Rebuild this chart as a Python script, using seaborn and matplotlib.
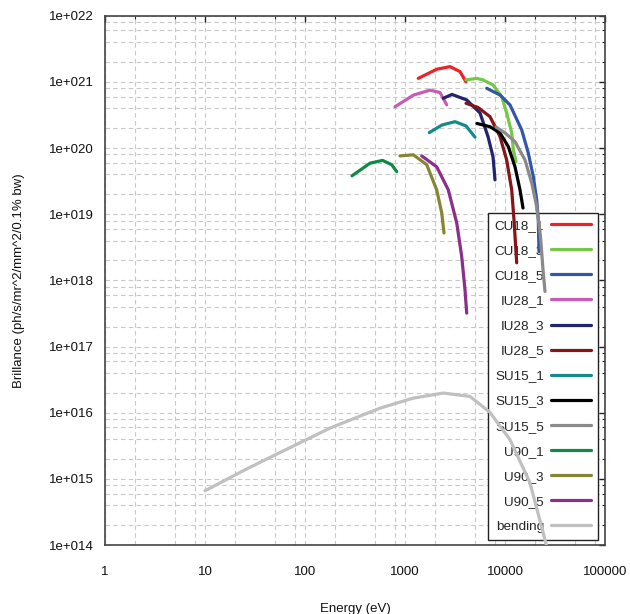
import numpy as np
import pandas as pd
import matplotlib
matplotlib.use("Agg")
import matplotlib.pyplot as plt
from matplotlib.lines import Line2D
from matplotlib.ticker import LogLocator, FuncFormatter, NullFormatter
import seaborn as sns

# ---------------- data ----------------
series_names = ["CU18_1", "CU18_3", "CU18_5", "IU28_1", "IU28_3", "IU28_5",
                "SU15_1", "SU15_3", "SU15_5", "U90_1", "U90_3", "U90_5", "bending"]
series_colors = ["#ee2226", "#74c846", "#3456a8", "#c95bb4", "#23236e", "#861518",
                 "#168a8a", "#000000", "#8a8a8a", "#0f8a45", "#858533", "#8a2f8c", "#c0c0c0"]

cu18_1_e = [1358, 2075, 2818, 3548, 4074]
cu18_1_b = [1.13e21, 1.55e21, 1.70e21, 1.43e21, 1.0e21]

cu18_3_e = [4074, 5212, 6026, 7586, 9268, 10390, 11670, 12110, 12880]
cu18_3_b = [1.07e21, 1.13e21, 1.07e21, 8.98e20, 5.97e20, 3.39e20, 1.69e20, 9.4e19, 6.2e19]

cu18_5_e = [6561, 8913, 11220, 14690, 17100, 19190, 20750, 21530, 21880]
cu18_5_b = [8.0e20, 6.34e20, 4.48e20, 1.88e20, 8.4e19, 3.7e19, 1.64e19, 8.2e18, 2.7e18]

iu28_1_e = [794, 1211, 1778, 2239, 2612]
iu28_1_b = [4.2e20, 6.3e20, 7.5e20, 6.9e20, 4.5e20]

iu28_3_e = [2415, 2951, 4140, 5623, 6761, 7586, 7943]
iu28_3_b = [5.65e20, 6.45e20, 5.33e20, 3.39e20, 1.49e20, 7.4e19, 3.3e19]

iu28_5_e = [4074, 5370, 7079, 8913, 10390, 11670, 12300, 13090]
iu28_5_b = [4.75e20, 4.1e20, 2.98e20, 1.49e20, 6.6e19, 2.33e19, 8.2e18, 1.84e18]

su15_1_e = [1750, 2344, 3162, 4074, 5012]
su15_1_b = [1.71e20, 2.23e20, 2.5e20, 2.16e20, 1.46e20]

su15_3_e = [5248, 7079, 8913, 10790, 12590, 14130, 15140]
su15_3_b = [2.35e20, 2.1e20, 1.69e20, 1.05e20, 5.2e19, 2.33e19, 1.24e19]

su15_5_e = [8128, 10000, 12590, 15850, 18490, 20750, 22650, 23990, 25120]
su15_5_b = [2.08e20, 1.69e20, 1.25e20, 6.6e19, 2.97e19, 1.30e19, 4.6e18, 1.44e18, 6.8e17]

u90_1_e = [295, 447, 596, 736, 826]
u90_1_b = [3.8e19, 5.9e19, 6.5e19, 5.6e19, 4.4e19]

u90_3_e = [891, 1211, 1648, 2075, 2328, 2455]
u90_3_b = [7.6e19, 7.9e19, 5.6e19, 2.33e19, 1.05e19, 5.2e18]

u90_5_e = [1469, 2075, 2710, 3289, 3690, 3981, 4140]
u90_5_b = [7.6e19, 5.2e19, 2.33e19, 7.4e18, 2.29e18, 7.2e17, 3.2e17]

bending_e = [10, 26.1, 56.2, 178, 562, 1211, 2415, 4467, 7079, 11220, 17780, 25120, 26300]
bending_b = [6.6e14, 1.41e15, 2.5e15, 5.85e15, 1.17e16, 1.66e16, 1.98e16, 1.76e16,
             1.01e16, 3.9e15, 8.7e14, 1.2e14, 9.0e13]

x_ticks = [1, 10, 100, 1000, 10000, 100000]
y_ticks = [1e14, 1e15, 1e16, 1e17, 1e18, 1e19, 1e20, 1e21, 1e22]

energies = [cu18_1_e, cu18_3_e, cu18_5_e, iu28_1_e, iu28_3_e, iu28_5_e,
            su15_1_e, su15_3_e, su15_5_e, u90_1_e, u90_3_e, u90_5_e, bending_e]
brill = [cu18_1_b, cu18_3_b, cu18_5_b, iu28_1_b, iu28_3_b, iu28_5_b,
         su15_1_b, su15_3_b, su15_5_b, u90_1_b, u90_3_b, u90_5_b, bending_b]

rows = []
for name, es, bs in zip(series_names, energies, brill):
    for i, (e, b) in enumerate(zip(es, bs)):
        rows.append({"series": name, "idx": i, "E": e, "B": b})
df = pd.DataFrame(rows)

# ---------------- figure ----------------
sns.set_style("white")
plt.rcParams["font.family"] = ["Liberation Sans", "DejaVu Sans"]

fig = plt.figure(figsize=(6.3, 6.14), dpi=100)
ax = fig.add_axes([105 / 630, 1 - 545 / 614, 500 / 630, (545 - 15.7) / 614])

palette = dict(zip(series_names, series_colors))
sns.lineplot(data=df, x="E", y="B", hue="series", hue_order=series_names,
             palette=palette, estimator=None, sort=False, units="series",
             linewidth=2.3, legend=False, ax=ax, solid_capstyle="round", zorder=3)

ax.set_xscale("log")
ax.set_yscale("log")
ax.set_xlim(1, 1e5)
ax.set_ylim(1e14, 1e22)

ax.xaxis.set_major_locator(LogLocator(base=10))
ax.xaxis.set_minor_locator(LogLocator(base=10, subs=[2, 5, 8], numticks=20))
ax.yaxis.set_major_locator(LogLocator(base=10, numticks=20))
ax.yaxis.set_minor_locator(LogLocator(base=10, subs=[2, 4, 6, 8], numticks=20))
ax.set_xticks(x_ticks)
ax.set_yticks(y_ticks)
ax.xaxis.set_major_formatter(FuncFormatter(lambda v, p: f"{int(round(v))}"))
ax.yaxis.set_major_formatter(FuncFormatter(lambda v, p: f"1e+{int(round(np.log10(v))):03d}"))
ax.xaxis.set_minor_formatter(NullFormatter())
ax.yaxis.set_minor_formatter(NullFormatter())

ax.grid(True, which="both", color="#c8c8c8", linestyle=(0, (4, 3)), linewidth=0.8)
ax.set_axisbelow(True)

ax.tick_params(which="both", direction="in", top=True, right=True, colors="#222222")
ax.tick_params(which="major", length=4, width=1.0, labelsize=9.5, labelcolor="#111111")
ax.tick_params(which="minor", length=2.5, width=0.8)
ax.tick_params(axis="x", which="major", pad=15)
ax.tick_params(axis="y", which="major", pad=8)

for s in ax.spines.values():
    s.set_color("#444444")
    s.set_linewidth(1.2)

ax.set_xlabel("Energy (eV)", fontsize=9.5, labelpad=18, color="#111111")
ax.set_ylabel("Brillance (ph/s/mr^2/mm^2/0.1% bw)", fontsize=9.5, labelpad=17, color="#111111")

handles = [Line2D([0], [0], color=c, linewidth=2.3) for c in series_colors]
leg = ax.legend(handles, series_names, loc="upper right",
                bbox_to_anchor=((598 - 105) / 500, (545 - 212.7) / 529.3),
                borderaxespad=0, markerfirst=False, fancybox=False, framealpha=1,
                edgecolor="#222222", fontsize=9.7, handlelength=3.0,
                handletextpad=0.5, labelspacing=0.94, borderpad=0.5)
leg.get_frame().set_linewidth(1.0)
leg.set_zorder(1)

fig.savefig("out.png", dpi=100, facecolor="white")
